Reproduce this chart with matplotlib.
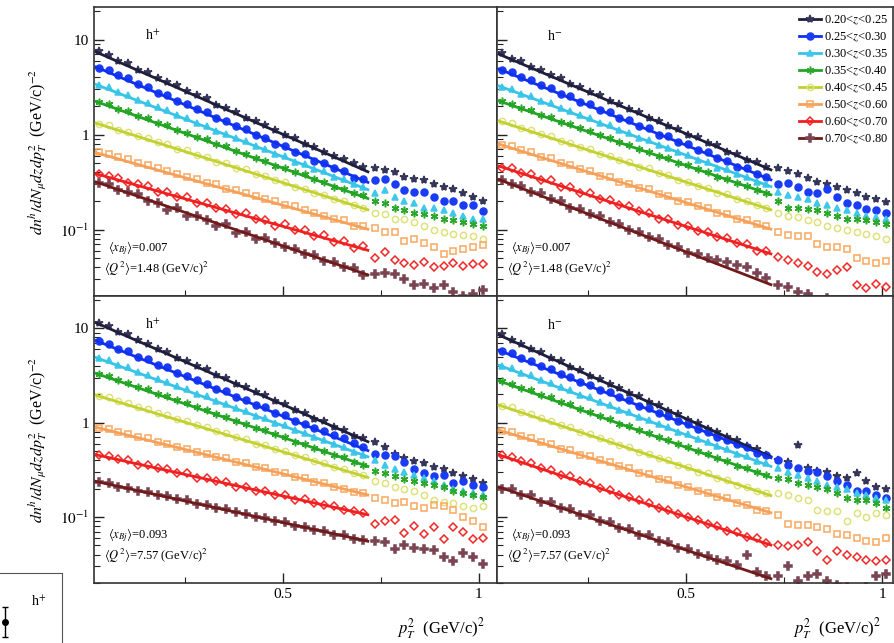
import numpy as np
import matplotlib
matplotlib.use("Agg")
import matplotlib.pyplot as plt
from matplotlib.ticker import LogLocator, NullFormatter, FixedLocator

plt.rcParams['font.family'] = ['Liberation Serif', 'DejaVu Serif']
plt.rcParams['mathtext.fontset'] = 'stix'

# bin centres in pT^2 (GeV/c)^2
pt2 = [0.03, 0.055, 0.08, 0.105, 0.13, 0.155, 0.18, 0.205, 0.23, 0.255,
       0.28, 0.305, 0.33, 0.355, 0.38, 0.405, 0.43, 0.455, 0.48, 0.505,
       0.53, 0.555, 0.58, 0.605, 0.63, 0.655, 0.68, 0.705,
       0.735, 0.76, 0.785, 0.81, 0.835, 0.86, 0.885, 0.91, 0.935, 0.96, 0.985, 1.01]

z_labels = ["0.20<$z$<0.25", "0.25<$z$<0.30", "0.30<$z$<0.35", "0.35<$z$<0.40",
            "0.40<$z$<0.45", "0.50<$z$<0.60", "0.60<$z$<0.70", "0.70<$z$<0.80"]

# h+, <xBj>=0.007
mult_tl = [
    [7.6, 6.9, 6.0, 5.6, 4.8, 4.5, 3.9, 3.6, 3.3, 2.85, 2.6, 2.4, 2.05, 1.9, 1.72, 1.5, 1.4, 1.25, 1.12, 1.0,
     0.92, 0.80, 0.74, 0.66, 0.60, 0.55, 0.50, 0.46, 0.45, 0.42, 0.40, 0.36, 0.34, 0.33, 0.30, 0.28, 0.27, 0.24, 0.22, 0.20],
    [5.0, 4.8, 4.2, 3.9, 3.4, 3.2, 2.75, 2.6, 2.25, 2.1, 1.85, 1.72, 1.5, 1.4, 1.22, 1.15, 0.98, 0.93, 0.80, 0.76,
     0.66, 0.62, 0.53, 0.50, 0.44, 0.41, 0.35, 0.34, 0.33, 0.34, 0.30, 0.26, 0.25, 0.25, 0.22, 0.20, 0.20, 0.18, 0.18, 0.155],
    [3.3, 3.15, 2.8, 2.6, 2.3, 2.15, 1.93, 1.8, 1.6, 1.48, 1.33, 1.24, 1.1, 1.02, 0.91, 0.85, 0.76, 0.71, 0.63, 0.59,
     0.52, 0.49, 0.43, 0.41, 0.36, 0.34, 0.30, 0.28, 0.24, 0.26, 0.22, 0.20, 0.19, 0.17, 0.17, 0.16, 0.15, 0.14, 0.13, 0.13],
    [2.2, 2.1, 1.87, 1.76, 1.58, 1.48, 1.33, 1.25, 1.12, 1.05, 0.94, 0.89, 0.80, 0.75, 0.67, 0.63, 0.56, 0.53, 0.47, 0.45,
     0.40, 0.38, 0.34, 0.32, 0.28, 0.27, 0.24, 0.23, 0.20, 0.19, 0.17, 0.16, 0.15, 0.145, 0.14, 0.13, 0.125, 0.12, 0.115, 0.11],
    [1.30, 1.25, 1.13, 1.07, 0.97, 0.92, 0.83, 0.79, 0.71, 0.68, 0.61, 0.58, 0.52, 0.50, 0.45, 0.43, 0.385, 0.37, 0.33, 0.315,
     0.28, 0.27, 0.24, 0.23, 0.21, 0.20, 0.18, 0.17, 0.15, 0.145, 0.13, 0.13, 0.12, 0.11, 0.10, 0.095, 0.090, 0.088, 0.085, 0.080],
    [0.66, 0.63, 0.58, 0.55, 0.50, 0.48, 0.44, 0.41, 0.38, 0.36, 0.34, 0.31, 0.30, 0.27, 0.26, 0.24, 0.225, 0.21, 0.20, 0.18,
     0.175, 0.16, 0.15, 0.14, 0.13, 0.125, 0.11, 0.11, 0.105, 0.095, 0.095, 0.075, 0.080, 0.072, 0.065, 0.055, 0.060, 0.063, 0.066, 0.068],
    [0.38, 0.37, 0.35, 0.31, 0.30, 0.29, 0.25, 0.25, 0.22, 0.22, 0.19, 0.19, 0.17, 0.165, 0.145, 0.15, 0.13, 0.125, 0.11, 0.115,
     0.098, 0.10, 0.085, 0.088, 0.074, 0.076, 0.064, 0.067, 0.05, 0.058, 0.048, 0.045, 0.042, 0.046, 0.040, 0.041, 0.044, 0.041, 0.043, 0.043],
    [0.31, 0.30, 0.26, 0.25, 0.235, 0.20, 0.19, 0.16, 0.17, 0.14, 0.14, 0.125, 0.11, 0.115, 0.092, 0.095, 0.08, 0.082, 0.072, 0.066,
     0.063, 0.055, 0.054, 0.047, 0.046, 0.040, 0.039, 0.033, 0.034, 0.035, 0.034, 0.030, 0.026, 0.027, 0.024, 0.026, 0.022, 0.020, 0.021, 0.023],
]

# h-, <xBj>=0.007
mult_tr = [
    [7.3, 6.3, 5.9, 5.1, 4.8, 4.2, 3.9, 3.4, 3.2, 2.8, 2.6, 2.25, 2.1, 1.85, 1.72, 1.5, 1.4, 1.22, 1.15, 1.0,
     0.94, 0.81, 0.77, 0.66, 0.62, 0.54, 0.51, 0.46, 0.44, 0.41, 0.38, 0.35, 0.32, 0.30, 0.28, 0.26, 0.24, 0.22, 0.21, 0.195],
    [4.8, 4.6, 4.0, 3.75, 3.3, 3.1, 2.7, 2.55, 2.2, 2.1, 1.82, 1.72, 1.5, 1.42, 1.23, 1.17, 1.0, 0.96, 0.83, 0.79,
     0.68, 0.65, 0.56, 0.53, 0.46, 0.44, 0.38, 0.36, 0.30, 0.31, 0.28, 0.25, 0.24, 0.27, 0.22, 0.19, 0.18, 0.165, 0.16, 0.15],
    [3.2, 3.05, 2.7, 2.55, 2.27, 2.13, 1.9, 1.78, 1.59, 1.5, 1.33, 1.25, 1.11, 1.05, 0.93, 0.88, 0.78, 0.73, 0.65, 0.61,
     0.54, 0.51, 0.45, 0.43, 0.38, 0.36, 0.32, 0.30, 0.25, 0.23, 0.22, 0.21, 0.19, 0.18, 0.17, 0.16, 0.15, 0.14, 0.135, 0.13],
    [2.25, 2.12, 1.91, 1.80, 1.62, 1.52, 1.36, 1.29, 1.16, 1.09, 0.98, 0.93, 0.83, 0.78, 0.70, 0.66, 0.60, 0.56, 0.50, 0.475,
     0.43, 0.40, 0.36, 0.34, 0.31, 0.29, 0.26, 0.245, 0.20, 0.17, 0.17, 0.165, 0.16, 0.15, 0.14, 0.13, 0.13, 0.125, 0.12, 0.115],
    [1.38, 1.31, 1.18, 1.12, 1.01, 0.96, 0.86, 0.82, 0.74, 0.70, 0.63, 0.60, 0.54, 0.51, 0.46, 0.44, 0.39, 0.375, 0.335, 0.32,
     0.285, 0.275, 0.245, 0.235, 0.21, 0.20, 0.18, 0.17, 0.15, 0.14, 0.135, 0.125, 0.12, 0.11, 0.105, 0.10, 0.095, 0.09, 0.085, 0.08],
    [0.78, 0.76, 0.68, 0.65, 0.58, 0.56, 0.50, 0.48, 0.43, 0.41, 0.37, 0.355, 0.32, 0.305, 0.275, 0.265, 0.235, 0.225, 0.20, 0.195,
     0.175, 0.17, 0.15, 0.145, 0.13, 0.125, 0.115, 0.11, 0.095, 0.088, 0.086, 0.085, 0.07, 0.066, 0.065, 0.063, 0.05, 0.047, 0.044, 0.047],
    [0.45, 0.44, 0.39, 0.38, 0.33, 0.33, 0.28, 0.28, 0.24, 0.24, 0.21, 0.205, 0.18, 0.175, 0.155, 0.15, 0.13, 0.13, 0.113, 0.11,
     0.097, 0.095, 0.083, 0.082, 0.072, 0.07, 0.06, 0.06, 0.052, 0.048, 0.044, 0.041, 0.036, 0.034, 0.038, 0.04, 0.026, 0.024, 0.027, 0.025],
    [0.33, 0.30, 0.29, 0.25, 0.24, 0.21, 0.20, 0.17, 0.165, 0.145, 0.14, 0.12, 0.115, 0.10, 0.095, 0.083, 0.08, 0.069, 0.066, 0.057,
     0.055, 0.05, 0.048, 0.046, 0.042, 0.040, 0.035, 0.031, 0.026, 0.025, 0.022, 0.021, 0.018, 0.019, 0.017, 0.016, 0.015, 0.016, 0.015, 0.014],
]

# h+, <xBj>=0.093
mult_bl = [
    [11.3, 10.6, 9.2, 8.6, 7.5, 6.9, 6.0, 5.6, 4.9, 4.5, 4.0, 3.7, 3.2, 2.95, 2.6, 2.4, 2.1, 1.95, 1.7, 1.58,
     1.36, 1.28, 1.1, 1.04, 0.9, 0.84, 0.72, 0.68, 0.62, 0.55, 0.47, 0.42, 0.39, 0.37, 0.34, 0.32, 0.29, 0.27, 0.25, 0.23],
    [7.3, 6.9, 6.1, 5.7, 5.0, 4.7, 4.1, 3.85, 3.4, 3.15, 2.8, 2.6, 2.3, 2.15, 1.88, 1.76, 1.55, 1.45, 1.27, 1.2,
     1.05, 0.98, 0.88, 0.82, 0.74, 0.68, 0.61, 0.55, 0.47, 0.45, 0.44, 0.38, 0.32, 0.29, 0.27, 0.28, 0.23, 0.24, 0.22, 0.21],
    [4.8, 4.6, 4.1, 3.85, 3.45, 3.22, 2.88, 2.7, 2.42, 2.26, 2.02, 1.9, 1.7, 1.59, 1.42, 1.33, 1.19, 1.12, 1.0, 0.94,
     0.84, 0.78, 0.70, 0.66, 0.59, 0.55, 0.49, 0.46, 0.40, 0.36, 0.32, 0.30, 0.28, 0.26, 0.24, 0.22, 0.20, 0.19, 0.18, 0.17],
    [3.3, 3.12, 2.82, 2.65, 2.39, 2.25, 2.02, 1.9, 1.72, 1.61, 1.45, 1.36, 1.23, 1.16, 1.04, 0.98, 0.88, 0.83, 0.75, 0.70,
     0.63, 0.60, 0.54, 0.50, 0.455, 0.43, 0.385, 0.36, 0.31, 0.29, 0.27, 0.25, 0.24, 0.23, 0.22, 0.21, 0.19, 0.18, 0.17, 0.165],
    [1.93, 1.85, 1.68, 1.6, 1.45, 1.39, 1.26, 1.2, 1.09, 1.03, 0.94, 0.89, 0.81, 0.77, 0.70, 0.665, 0.60, 0.575, 0.52, 0.50,
     0.45, 0.43, 0.39, 0.37, 0.335, 0.32, 0.29, 0.28, 0.24, 0.23, 0.21, 0.20, 0.19, 0.17, 0.15, 0.145, 0.14, 0.13, 0.125, 0.13],
    [0.88, 0.86, 0.79, 0.76, 0.70, 0.68, 0.62, 0.60, 0.55, 0.53, 0.49, 0.47, 0.43, 0.42, 0.38, 0.37, 0.34, 0.33, 0.30, 0.29,
     0.265, 0.26, 0.235, 0.23, 0.21, 0.20, 0.185, 0.18, 0.16, 0.15, 0.14, 0.145, 0.13, 0.125, 0.135, 0.13, 0.12, 0.10, 0.09, 0.078],
    [0.45, 0.44, 0.41, 0.40, 0.36, 0.36, 0.33, 0.32, 0.29, 0.29, 0.26, 0.26, 0.24, 0.235, 0.21, 0.21, 0.19, 0.19, 0.17, 0.17,
     0.15, 0.155, 0.14, 0.135, 0.13, 0.12, 0.115, 0.11, 0.085, 0.09, 0.092, 0.068, 0.08, 0.066, 0.078, 0.058, 0.078, 0.07, 0.058, 0.06],
    [0.235, 0.23, 0.21, 0.205, 0.19, 0.186, 0.17, 0.168, 0.155, 0.15, 0.138, 0.135, 0.124, 0.121, 0.112, 0.109, 0.10, 0.098, 0.09, 0.088,
     0.081, 0.079, 0.073, 0.071, 0.065, 0.064, 0.059, 0.057, 0.056, 0.055, 0.046, 0.05, 0.047, 0.046, 0.045, 0.038, 0.034, 0.042, 0.038, 0.032],
]

# h-, <xBj>=0.093
mult_br = [
    [8.8, 7.6, 6.9, 6.0, 5.6, 4.8, 4.5, 3.9, 3.6, 3.15, 2.9, 2.55, 2.35, 2.05, 1.9, 1.65, 1.53, 1.33, 1.23, 1.07,
     0.99, 0.86, 0.80, 0.70, 0.65, 0.56, 0.52, 0.46, 0.40, 0.38, 0.58, 0.33, 0.31, 0.30, 0.27, 0.26, 0.29, 0.24, 0.21, 0.20],
    [5.7, 5.5, 4.8, 4.5, 3.95, 3.7, 3.25, 3.06, 2.7, 2.52, 2.23, 2.1, 1.85, 1.73, 1.52, 1.43, 1.26, 1.18, 1.04, 0.97,
     0.86, 0.80, 0.71, 0.66, 0.59, 0.55, 0.48, 0.46, 0.40, 0.36, 0.33, 0.31, 0.30, 0.27, 0.24, 0.22, 0.19, 0.19, 0.17, 0.16],
    [4.0, 3.8, 3.4, 3.17, 2.83, 2.65, 2.36, 2.21, 1.97, 1.85, 1.65, 1.55, 1.37, 1.29, 1.15, 1.08, 0.96, 0.90, 0.80, 0.75,
     0.67, 0.63, 0.56, 0.52, 0.47, 0.44, 0.39, 0.37, 0.33, 0.30, 0.28, 0.26, 0.24, 0.22, 0.21, 0.20, 0.18, 0.17, 0.16, 0.15],
    [2.75, 2.6, 2.33, 2.2, 1.96, 1.85, 1.65, 1.56, 1.39, 1.31, 1.17, 1.1, 0.98, 0.93, 0.83, 0.78, 0.70, 0.66, 0.59, 0.555,
     0.495, 0.47, 0.42, 0.39, 0.35, 0.33, 0.30, 0.28, 0.26, 0.25, 0.23, 0.22, 0.21, 0.20, 0.18, 0.16, 0.15, 0.15, 0.14, 0.125],
    [1.52, 1.45, 1.31, 1.24, 1.11, 1.05, 0.94, 0.89, 0.80, 0.76, 0.68, 0.645, 0.58, 0.55, 0.49, 0.47, 0.42, 0.40, 0.355, 0.34,
     0.30, 0.29, 0.26, 0.245, 0.22, 0.21, 0.19, 0.18, 0.18, 0.17, 0.16, 0.15, 0.12, 0.115, 0.115, 0.09, 0.11, 0.10, 0.11, 0.105],
    [0.82, 0.79, 0.72, 0.68, 0.62, 0.59, 0.53, 0.51, 0.46, 0.44, 0.40, 0.38, 0.345, 0.33, 0.295, 0.285, 0.255, 0.245, 0.22, 0.21,
     0.19, 0.18, 0.165, 0.16, 0.14, 0.135, 0.12, 0.115, 0.105, 0.085, 0.082, 0.082, 0.078, 0.075, 0.066, 0.064, 0.06, 0.056, 0.054, 0.06],
    [0.45, 0.43, 0.39, 0.37, 0.33, 0.315, 0.28, 0.27, 0.24, 0.23, 0.205, 0.195, 0.17, 0.165, 0.15, 0.14, 0.125, 0.12, 0.107, 0.10,
     0.093, 0.085, 0.08, 0.072, 0.07, 0.061, 0.06, 0.053, 0.05, 0.049, 0.05, 0.054, 0.044, 0.035, 0.044, 0.040, 0.038, 0.035, 0.034, 0.035],
    [0.20, 0.20, 0.17, 0.17, 0.145, 0.145, 0.125, 0.122, 0.105, 0.104, 0.09, 0.088, 0.077, 0.075, 0.065, 0.064, 0.056, 0.054, 0.047, 0.046,
     0.041, 0.039, 0.035, 0.034, 0.031, 0.040, 0.026, 0.024, 0.024, 0.030, 0.021, 0.024, 0.025, 0.021, 0.019, 0.018, 0.017, 0.018, 0.024, 0.025],
]

# exponential fits: value at start and end of fit range
fit_range = [0.02, 0.72]
fit_tl = [(7.5, 0.40), (5.2, 0.31), (3.4, 0.26), (2.25, 0.21), (1.33, 0.16), (0.65, 0.10), (0.39, 0.060), (0.32, 0.033)]
fit_tr = [(7.1, 0.42), (4.95, 0.33), (3.28, 0.28), (2.28, 0.23), (1.40, 0.16), (0.80, 0.10), (0.47, 0.055), (0.34, 0.026)]
fit_bl = [(11.6, 0.62), (7.5, 0.50), (4.95, 0.43), (3.36, 0.34), (1.97, 0.26), (0.90, 0.17), (0.46, 0.105), (0.24, 0.055)]
fit_br = [(8.6, 0.43), (5.9, 0.42), (4.1, 0.34), (2.8, 0.26), (1.55, 0.167), (0.84, 0.11), (0.46, 0.05), (0.21, 0.022)]

# marker styles per z bin
line_col = ['#1f1f3c', '#1030f0', '#38c4e6', '#22a522', '#c2d030', '#f6a05a', '#f02020', '#701a1a']
mark_col = ['#35355a', '#1a3cf5', '#40c8ea', '#2aa82a', '#dde27a', '#f8a860', '#f02828', '#7a4452']
markers = ['*', 'o', '^', (6, 2, 0), 'o', 's', 'D', 'P']
msizes = [6, 5, 4.5, 5.5, 4.5, 4.5, 4, 5.5]
filled = [True, True, True, True, False, False, False, True]

W, H = 894, 643
fig = plt.figure(figsize=(W / 100, H / 100), dpi=100)


def px_axes(x0, x1, y0, y1):
    return fig.add_axes([x0 / W, 1 - y1 / H, (x1 - x0) / W, (y1 - y0) / H])


ax_tl = px_axes(94, 497, 7, 296)
ax_tr = px_axes(497, 893, 7, 296)
ax_bl = px_axes(94, 497, 296, 583)
ax_br = px_axes(497, 893, 296, 583)

panels = [
    (ax_tl, mult_tl, fit_tl, "h$^{+}$", "0.007", "1.48", (0.018, 1.046), True, False),
    (ax_tr, mult_tr, fit_tr, "h$^{-}$", "0.007", "1.48", (0.018, 1.028), False, False),
    (ax_bl, mult_bl, fit_bl, "h$^{+}$", "0.093", "7.57", (0.018, 1.046), True, True),
    (ax_br, mult_br, fit_br, "h$^{-}$", "0.093", "7.57", (0.018, 1.028), False, True),
]

for ax, mult, fits, hname, xbj, q2, xl, left, bottom in panels:
    ax.set_yscale('log')
    for i in range(8):
        fc = mark_col[i] if filled[i] else 'none'
        ax.plot(pt2, mult[i], linestyle='none', marker=markers[i], ms=msizes[i],
                mfc=fc, mec=mark_col[i], mew=1.1, zorder=2)
        ax.plot(fit_range, fits[i], color=line_col[i], lw=2, zorder=3,
                solid_capstyle='butt')
    ax.set_xlim(*xl)
    ax.set_ylim(0.02, 22)
    ax.xaxis.set_major_locator(FixedLocator([0.5, 1.0]))
    ax.xaxis.set_minor_locator(FixedLocator([0.25, 0.75]))
    ax.yaxis.set_major_locator(FixedLocator([0.1, 1, 10]))
    ax.yaxis.set_minor_locator(LogLocator(base=10, subs=np.arange(2, 10)))
    ax.yaxis.set_minor_formatter(NullFormatter())
    ax.tick_params(which='both', direction='in', top=False, right=False, labelsize=11,
                   color='#222222')
    ax.tick_params(which='major', length=7, width=1)
    ax.tick_params(which='minor', length=4, width=0.8)
    if left:
        ax.set_yticklabels(['$10^{-1}$', '1', '10'])
    else:
        ax.set_yticklabels([])
    if bottom:
        ax.set_xticklabels(['0.5', '1'])
    else:
        ax.set_xticklabels([])
    for s in ax.spines.values():
        s.set_color('#333333')
        s.set_linewidth(1.2)
    ax.text(0.145, 0.9, hname, transform=ax.transAxes, fontsize=10, ha='center', va='center')
    ax.text(0.035, 0.165, r'$\langle x_{Bj}\rangle$=' + xbj, transform=ax.transAxes,
            fontsize=9, ha='left', va='center')
    ax.text(0.025, 0.095, r'$\langle Q^{2}\rangle$=' + q2 + ' (GeV/c)$^{2}$',
            transform=ax.transAxes, fontsize=9, ha='left', va='center')

ylab = r'$dn^{h}/dN_{\mu}dzdp_{T}^{2}$  (GeV/c)$^{-2}$'
for ax in (ax_tl, ax_bl):
    ax.set_ylabel(ylab, fontsize=11.5, labelpad=8)

for ax in (ax_bl, ax_br):
    ax.text(0.97, -0.16, r'$p_{T}^{2}$  (GeV/c)$^{2}$', transform=ax.transAxes,
            fontsize=12, ha='right', va='center')

# legend in top-right panel
handles = []
for i in range(8):
    fc = mark_col[i] if filled[i] else 'none'
    h, = ax_tr.plot([], [], color=line_col[i], lw=2, marker=markers[i], ms=msizes[i],
                    mfc=fc, mec=mark_col[i], mew=1.1)
    handles.append(h)
ax_tr.legend(handles, z_labels, loc='upper right', bbox_to_anchor=(0.995, 0.985),
             frameon=False, fontsize=9, handlelength=1.8, handletextpad=0.25,
             labelspacing=0.3, borderpad=0.2, borderaxespad=0)

# fragment of a neighbouring figure at the lower left corner
frag_x = [0.466]
frag_y = [0.52]
frag_err = [0.15]
ax_f = fig.add_axes([-0.05, -0.05, 0.05 + 62 / W, 0.05 + 1 - 573 / H])
ax_f.errorbar(frag_x, frag_y, yerr=frag_err, fmt='o', color='black', ms=4, capsize=2, lw=1)
ax_f.set_xlim(0, 1)
ax_f.set_ylim(0, 1)
ax_f.set_xticks([])
ax_f.set_yticks([])
ax_f.spines['left'].set_visible(False)
ax_f.spines['bottom'].set_visible(False)
for s in ('top', 'right'):
    ax_f.spines[s].set_color('#555555')
ax_f.text(0.78, 0.72, 'h$^{+}$', transform=ax_f.transAxes, fontsize=10, ha='center', va='center')

fig.savefig('out.png', dpi=100)
